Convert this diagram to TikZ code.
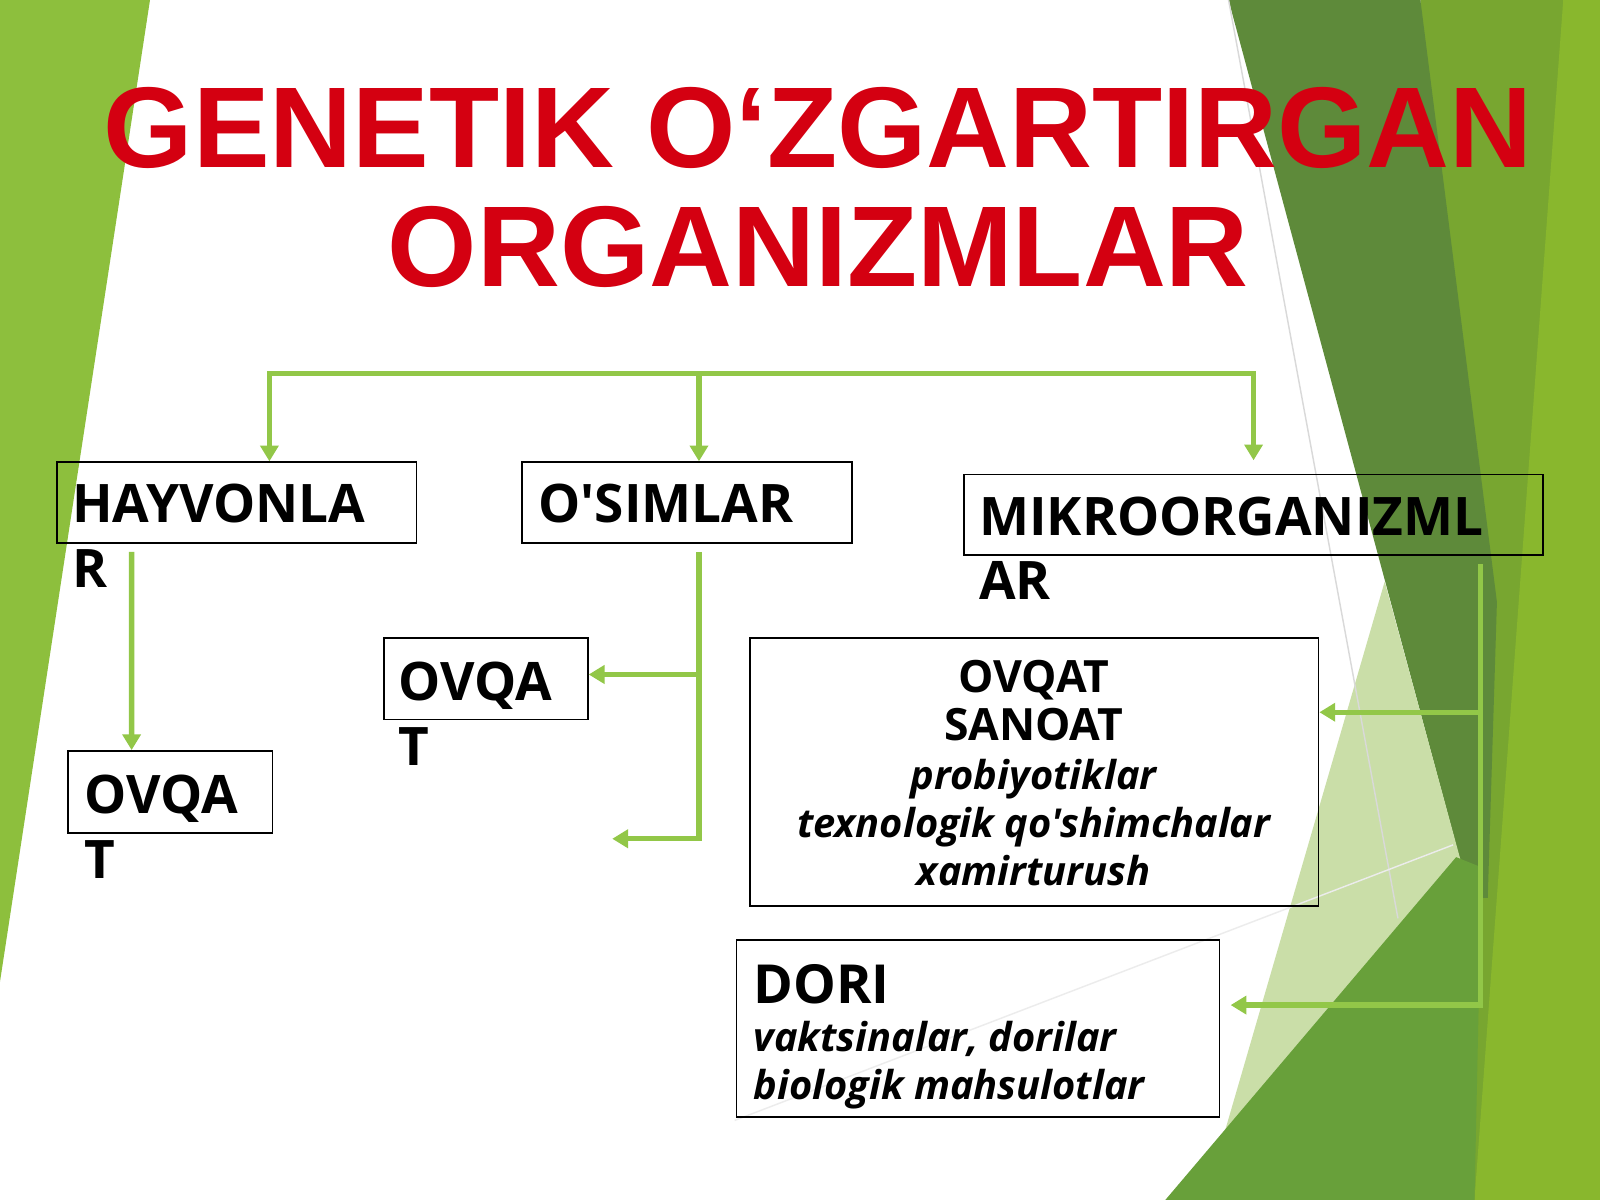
\documentclass[tikz,border=0pt]{standalone}
\usepackage{fontspec}
\setmainfont{Open Sans}[Ligatures=TeXOff]
\newfontfamily\titlefont{Liberation Sans}
\usetikzlibrary{arrows.meta}
\definecolor{leafgreen}{RGB}{141,191,61}
\definecolor{olivegreen}{RGB}{120,166,48}
\definecolor{brightgreen}{RGB}{137,183,45}
\definecolor{darkgreen}{RGB}{94,138,58}
\definecolor{midgreen}{RGB}{104,160,58}
\definecolor{palegreen}{RGB}{202,222,168}
\definecolor{arrowgreen}{RGB}{146,199,72}
\definecolor{titlered}{RGB}{212,0,17}

\begin{document}
\begin{tikzpicture}[x=0.01cm,y=-0.01cm,
  box/.style={draw=black,line width=0.5pt,inner sep=0pt},
  head/.style={font=\bfseries\fontsize{14.8}{18}\selectfont,align=left,anchor=north west,inner sep=0pt},
  note/.style={font=\bfseries\itshape\fontsize{11.1}{13.5}\selectfont,inner sep=0pt},
  arr/.style={draw=arrowgreen,line width=1.5pt,-{Triangle[width=5pt,length=4.4pt]}},
  ttl/.style={font=\titlefont\bfseries\fontsize{32}{33}\selectfont,text=titlered,align=center,anchor=north,inner sep=0pt}]
\fill[white] (0,0) rectangle (1568,1176);
\useasboundingbox (0,0) rectangle (1568,1176);
\fill[leafgreen] (0,0) -- (147,0) -- (0,962) -- cycle;
\fill[olivegreen] (1392,0) -- (1568,0) -- (1568,1176) -- (1440,1176) -- cycle;
\fill[brightgreen] (1532,0) -- (1568,0) -- (1568,1176) -- (1445,1176) -- cycle;
\fill[darkgreen] (1204,0) -- (1392,0) -- (1467,590) -- (1458,880) -- (1441,880) -- cycle;
\fill[palegreen] (1357,570) -- (1436,860) -- (1200,1110) -- cycle;
\fill[midgreen] (1142,1176) -- (1427,840) -- (1452,850) -- (1445,1176) -- cycle;
\draw[gray!30,line width=0.4pt] (1204,0) -- (1370,900);
\draw[gray!15,line width=0.4pt] (1424,828) -- (720,1098);

\node[ttl] (title) at (802,85) {GENETIK O‘ZGARTIRGAN\\ORGANIZMLAR};

\node[box,minimum width=3.52cm,minimum height=0.79cm] (hay) at (232,492.5) {};
\node[box,minimum width=3.23cm,minimum height=0.79cm] (osim) at (673.5,492.5) {};
\node[box,minimum width=5.67cm,minimum height=0.79cm] (mikro) at (1228.5,504.5) {};
\node[box,minimum width=2cm,minimum height=0.8cm] (ovqA) at (167,776) {};
\node[box,minimum width=2cm,minimum height=0.8cm] (ovqB) at (476,665) {};
\node[box,minimum width=5.57cm,minimum height=2.63cm] (sanoat) at (1013.5,756.5) {};
\node[box,minimum width=4.73cm,minimum height=1.74cm] (dori) at (958.5,1008) {};

\node[head] (hayT) at (70,474) {HAYVONLA\\R};
\node[head] (osimT) at (527,474) {O'SIMLAR};
\node[head] (mikroT) at (959,486) {MIKROORGANIZML\\AR};
\node[head] (ovqAT) at (82,759) {OVQA\\T};
\node[head] (ovqBT) at (390,648) {OVQA\\T};
\node[note,align=center,anchor=north] (sanoatT) at (1013,646) {{\upshape\fontsize{12.4}{13.5}\selectfont OVQAT}\\{\upshape\fontsize{12.4}{13.5}\selectfont SANOAT}\\probiyotiklar\\texnologik qo'shimchalar\\xamirturush};
\node[note,align=left,anchor=north west] (doriT) at (738,944) {{\upshape\fontsize{15}{18}\selectfont DORI}\\vaktsinalar, dorilar\\biologik mahsulotlar};

\coordinate (root) at (685,366);
\coordinate (osimFork) at (685,661);
\coordinate (osimEnd) at (600,822);
\coordinate (mikroFork) at (1450,698);
\draw[arr] (root) -| ([xshift=0.32cm]hay.north);
\draw[arr] (root) -- (root |- osim.north);
\draw[arr] (root) -| ([yshift=0.13cm]mikro.north);
\draw[arr] ([xshift=-1.03cm,yshift=-0.08cm]hay.south) -- ([xshift=-0.38cm]ovqA.north);
\draw[arr] ([xshift=0.115cm,yshift=-0.08cm]osim.south) |- (osimEnd);
\draw[arr] (osimFork) -- (osimFork -| ovqB.east);
\draw[arr] ([xshift=-0.62cm,yshift=-0.08cm]mikro.south east) |- ([xshift=0.1cm,yshift=0.23cm]dori.east);
\draw[arr] (mikroFork) -- (mikroFork -| sanoat.east);
\end{tikzpicture}
\end{document}
